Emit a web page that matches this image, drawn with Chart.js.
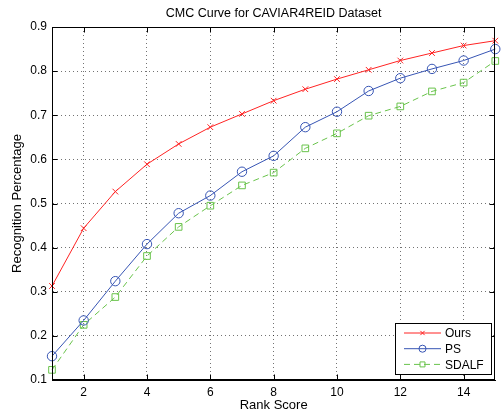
<!DOCTYPE html>
<html>
<head>
<meta charset="utf-8">
<script src="https://cdn.jsdelivr.net/npm/chart.js@4"></script>
<style>
html,body{margin:0;padding:0;background:#fff;}
#wrap{width:501px;height:415px;}
</style>
</head>
<body>
<div id="wrap"><canvas id="c" width="501" height="415"></canvas></div>
<script>
const rankScores = [1,2,3,4,5,6,7,8,9,10,11,12,13,14,15];
const oursValues  = [0.313,0.444,0.527,0.589,0.635,0.673,0.703,0.733,0.759,0.782,0.803,0.824,0.841,0.858,0.869];
const psValues    = [0.154,0.235,0.324,0.408,0.478,0.518,0.572,0.608,0.673,0.708,0.755,0.784,0.805,0.824,0.850];
const sdalfValues = [0.123,0.225,0.288,0.381,0.447,0.495,0.541,0.570,0.625,0.659,0.699,0.720,0.754,0.774,0.823];
const xTickLabels = [2,4,6,8,10,12,14];
const yTickLabels = [0.1,0.2,0.3,0.4,0.5,0.6,0.7,0.8,0.9];
const seriesNames = ['Ours','PS','SDALF'];
const chartTitle = 'CMC Curve for CAVIAR4REID Dataset';

const FONT = '"Liberation Sans", Arial, Helvetica, sans-serif';
const RED = 'rgb(255,35,35)', BLUE = 'rgb(55,85,180)', GREEN = 'rgb(105,195,75)';

function pts(vals){ return rankScores.map((x,i)=>({x:x,y:vals[i]})); }

const frameAndTicks = {
  id:'frameAndTicks',
  afterDatasetsDraw(chart){
    const ctx = chart.ctx, a = chart.chartArea;
    const xs = chart.scales.x, ys = chart.scales.y;
    ctx.save();
    ctx.fillStyle = '#000';
    ctx.font = '12.5px ' + FONT;
    ctx.textAlign = 'center';
    ctx.textBaseline = 'middle';
    ctx.fillText(chartTitle, (a.left + a.right)/2, 13.5);

    ctx.strokeStyle = '#000';
    ctx.lineWidth = 1;
    const L = Math.round(a.left)+0.5, R = Math.round(a.right)-0.5, T = Math.round(a.top)+0.5, B = Math.round(a.bottom)-0.5;
    ctx.strokeRect(L, T, R-L, B-T);
    ctx.beginPath();
    xTickLabels.forEach(v=>{
      const px = Math.round(xs.getPixelForValue(v))+0.5;
      ctx.moveTo(px,B); ctx.lineTo(px,B-5);
      ctx.moveTo(px,T); ctx.lineTo(px,T+5);
    });
    yTickLabels.forEach(v=>{
      const py = Math.round(ys.getPixelForValue(v))+0.5;
      ctx.moveTo(L,py); ctx.lineTo(L+5,py);
      ctx.moveTo(R,py); ctx.lineTo(R-5,py);
    });
    ctx.stroke();
    // legend
    const bx = 395.5, by = 323.5, bw = 96, bh = 51;
    ctx.fillStyle = '#fff';
    ctx.fillRect(bx,by,bw,bh);
    ctx.strokeRect(bx,by,bw,bh);
    chart.data.datasets.forEach((ds,i)=>{
      const cy = by + 9.5 + i*15.7;
      ctx.save();
      ctx.strokeStyle = ds.borderColor;
      ctx.fillStyle = 'rgba(0,0,0,0)';
      ctx.lineWidth = 1;
      ctx.setLineDash(ds.borderDash || []);
      ctx.beginPath(); ctx.moveTo(404,cy); ctx.lineTo(441,cy); ctx.stroke();
      ctx.setLineDash([]);
      Chart.helpers.drawPoint(ctx,{pointStyle:ds.pointStyle,radius:ds.pointRadius*0.75,borderWidth:1,rotation:0},422.5,cy);
      ctx.restore();
      ctx.fillStyle = '#000';
      ctx.font = '12px ' + FONT;
      ctx.textBaseline = 'middle';
      ctx.textAlign = 'left';
      ctx.fillText(ds.label, 445, cy+1);
    });
    ctx.restore();
  }
};

new Chart(document.getElementById('c'), {
  type:'line',
  data:{
    datasets:[
      {label:seriesNames[0], data:pts(oursValues), borderColor:RED, backgroundColor:'transparent', borderWidth:1,
       pointStyle:'crossRot', pointRadius:4, pointBorderColor:RED, pointBorderWidth:1, clip:false, tension:0},
      {label:seriesNames[1], data:pts(psValues), borderColor:BLUE, backgroundColor:'transparent', borderWidth:1,
       pointStyle:'circle', pointRadius:4.7, pointBorderColor:BLUE, pointBackgroundColor:'rgba(0,0,0,0)', pointBorderWidth:1, clip:false, tension:0},
      {label:seriesNames[2], data:pts(sdalfValues), borderColor:GREEN, backgroundColor:'transparent', borderWidth:1, borderDash:[6,4],
       pointStyle:'rect', pointRadius:4.7, pointBorderColor:GREEN, pointBackgroundColor:'rgba(0,0,0,0)', pointBorderWidth:1, clip:false, tension:0}
    ]
  },
  options:{
    responsive:false,
    animation:false,
    devicePixelRatio:1,
    layout:{padding:{left:0,right:2,top:27,bottom:0}},
    plugins:{
      legend:{display:false},
      tooltip:{enabled:false},
      title:{display:false}
    },
    scales:{
      x:{type:'linear', min:1, max:15,
         afterBuildTicks:s=>{ s.ticks = xTickLabels.map(v=>({value:v})); },
         afterFit:s=>{ s.height = 35; },
         ticks:{color:'#000', font:{family:FONT,size:12}, padding:5, autoSkip:false, maxRotation:0},
         grid:{color:'rgba(0,0,0,0.55)', lineWidth:1, drawTicks:false},
         border:{display:true, color:'#000', width:1, dash:[1,3]},
         title:{display:true, text:'Rank Score', color:'#000', font:{family:FONT,size:13}, padding:{top:0,bottom:2}}
      },
      y:{type:'linear', min:0.1, max:0.9,
         afterBuildTicks:s=>{ s.ticks = yTickLabels.map(v=>({value:v})); },
         afterFit:s=>{ s.width = 52; },
         ticks:{color:'#000', font:{family:FONT,size:12}, padding:5, callback:v=>Number(v).toFixed(1)},
         grid:{color:'rgba(0,0,0,0.55)', lineWidth:1, drawTicks:false},
         border:{display:true, color:'#000', width:1, dash:[1,3]},
         title:{display:true, text:'Recognition Percentage', color:'#000', font:{family:FONT,size:13}, padding:{top:10,bottom:0}}
      }
    }
  },
  plugins:[frameAndTicks]
});
</script>
</body>
</html>
